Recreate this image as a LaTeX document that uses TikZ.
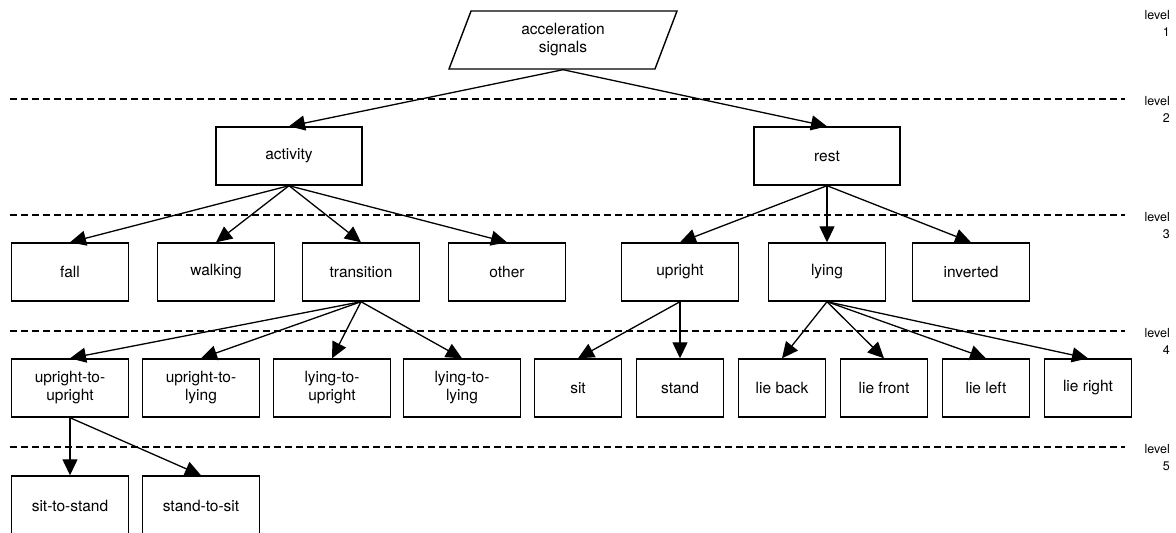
\documentclass[tikz,border=0pt]{standalone}
\usepackage{fontspec}
\setmainfont{TeX Gyre Heros}
\usetikzlibrary{arrows.meta,shapes.geometric}

\begin{document}
\begin{tikzpicture}[x=1pt,y=-1pt,
  every node/.style={font=\fontsize{15.5}{18}\selectfont, align=center},
  box/.style={draw, line width=1.4pt, inner sep=0pt, minimum width=117pt, minimum height=58pt},
  widebox/.style={box, minimum width=146pt},
  smallbox/.style={box, minimum width=87pt},
  lowbox/.style={box, minimum height=60pt},
  inbox/.style={draw, line width=1.4pt, inner sep=0pt, trapezium, trapezium left angle=56, trapezium right angle=124, trapezium stretches body, minimum width=228pt, minimum height=58pt},
  link/.style={line width=1.3pt, -{Triangle[length=16pt,width=15pt]}},
  levelline/.style={line width=1.2pt, dash pattern=on 7pt off 4pt},
  levellabel/.style={anchor=north east, inner sep=0pt, align=right, font=\fontsize{12.5}{17}\selectfont}]

\useasboundingbox (0,0) rectangle (1176,533);

\draw [levelline] (10,99) -- (1125,99);
\draw [levelline] (10,215) -- (1125,215);
\draw [levelline] (10,331) -- (1125,331);
\draw [levelline] (10,447) -- (1125,447);
\node [levellabel] (lev1) at (1170,10) {level\\1};
\node [levellabel] (lev2) at (1170,96) {level\\2};
\node [levellabel] (lev3) at (1170,212) {level\\3};
\node [levellabel] (lev4) at (1170,328) {level\\4};
\node [levellabel] (lev5) at (1170,444) {level\\5};

\node [inbox] (signals) at (563,40) {acceleration\\signals};

\node [widebox] (activity) at (289,156) {activity};
\node [widebox] (rest) at (827,156) {rest};

\node [box] (fall) at (70,272) {fall};
\node [box] (walking) at (216,272) {walking};
\node [box] (transition) at (361,272) {transition};
\node [box] (other) at (507,272) {other};
\node [box] (upright) at (680,272) {upright};
\node [box] (lying) at (827,272) {lying};
\node [box] (inverted) at (971,272) {inverted};

\node [box] (uptoup) at (70,388) {upright-to-\\upright};
\node [box] (uptolying) at (201,388) {upright-to-\\lying};
\node [box] (lyingtoup) at (332,388) {lying-to-\\upright};
\node [box] (lyingtolying) at (462,388) {lying-to-\\lying};
\node [smallbox] (sit) at (578,388) {sit};
\node [smallbox] (stand) at (680,388) {stand};
\node [smallbox] (lieback) at (782,388) {lie back};
\node [smallbox] (liefront) at (884,388) {lie front};
\node [smallbox] (lieleft) at (986,388) {lie left};
\node [smallbox] (lieright) at (1088,388) {lie right};

\node [lowbox] (sittostand) at (70,506) {sit-to-stand};
\node [lowbox] (standtosit) at (201,506) {stand-to-sit};

\draw [link] (signals.south) -- (activity.north);
\draw [link] (signals.south) -- (rest.north);
\draw [link] (activity.south) -- (fall.north);
\draw [link] (activity.south) -- (walking.north);
\draw [link] (activity.south) -- (transition.north);
\draw [link] (activity.south) -- (other.north);
\draw [link] (rest.south) -- (upright.north);
\draw [link] (rest.south) -- (lying.north);
\draw [link] (rest.south) -- (inverted.north);
\draw [link] (transition.south) -- (uptoup.north);
\draw [link] (transition.south) -- (uptolying.north);
\draw [link] (transition.south) -- (lyingtoup.north);
\draw [link] (transition.south) -- (lyingtolying.north);
\draw [link] (upright.south) -- (sit.north);
\draw [link] (upright.south) -- (stand.north);
\draw [link] (lying.south) -- (lieback.north);
\draw [link] (lying.south) -- (liefront.north);
\draw [link] (lying.south) -- (lieleft.north);
\draw [link] (lying.south) -- (lieright.north);
\draw [link] (uptoup.south) -- (sittostand.north);
\draw [link] (uptoup.south) -- (standtosit.north);
\end{tikzpicture}
\end{document}
